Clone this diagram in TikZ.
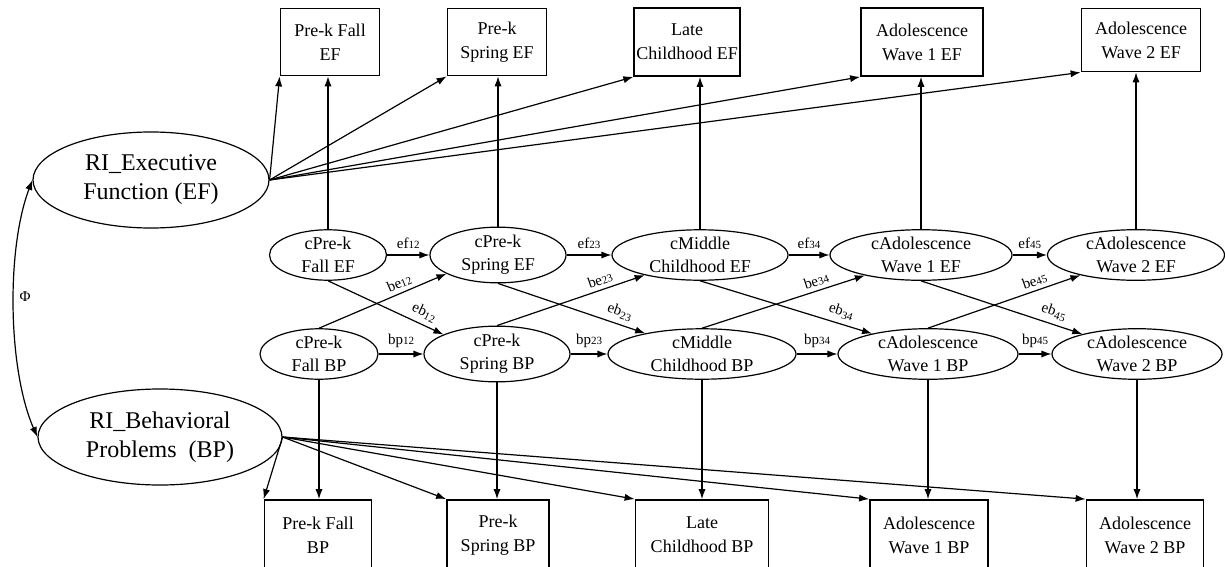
\documentclass[tikz,border=0pt]{standalone}
\usepackage{fontspec}
\setmainfont{Liberation Serif}
\usetikzlibrary{arrows.meta,shapes.geometric}

\newcommand{\pth}[2]{#1{\fontsize{5.5}{6}\selectfont #2}}
\newcommand{\pthlow}[2]{#1\raisebox{-1.3pt}{\fontsize{5.5}{6}\selectfont #2}}

\begin{document}
\begin{tikzpicture}[
  x=0.5pt, y=-0.5pt,
  obs/.style={draw, line width=0.9pt, align=center, font=\fontsize{9}{12}\selectfont, inner sep=1pt},
  lat/.style={draw, ellipse, line width=0.6pt, align=center, font=\fontsize{9}{11.5}\selectfont, inner sep=0pt},
  ri/.style={draw, ellipse, line width=0.6pt, align=center, font=\fontsize{12}{14.5}\selectfont, inner sep=0pt, minimum height=48pt},
  reg/.style={-{Latex[length=5pt,width=3.6pt]}, line width=0.6pt},
  coef/.style={font=\fontsize{7.5}{8}\selectfont, inner sep=1pt}
]

\useasboundingbox (0,0) rectangle (1225,567);

% random intercepts
\node[ri, minimum width=118pt] (riEF) at (151,180) {RI\_Executive\\Function (EF)};
\node[ri, minimum width=122pt] (riBP) at (160,437) {RI\_Behavioral\\Problems\enspace(BP)};

% observed EF
\node[obs, minimum width=49.5pt, minimum height=33.5pt] (oEF1) at (330,42) {Pre-k Fall\\EF};
\node[obs, minimum width=49.5pt, minimum height=33.5pt] (oEF2) at (497,42) {Pre-k\\Spring EF};
\node[obs, minimum width=51.5pt, minimum height=34pt] (oEF3) at (687,42) {Late\\Childhood EF};
\node[obs, minimum width=61pt, minimum height=34pt] (oEF4) at (922,42) {Adolescence\\Wave 1 EF};
\node[obs, minimum width=59.5pt, minimum height=31.5pt] (oEF5) at (1141,40) {Adolescence\\Wave 2 EF};

% observed BP
\node[obs, minimum width=53.5pt, minimum height=35pt] (oBP1) at (318,535) {Pre-k Fall\\BP};
\node[obs, minimum width=51pt, minimum height=35pt] (oBP2) at (498,535) {Pre-k\\Spring BP};
\node[obs, minimum width=66.5pt, minimum height=35pt] (oBP3) at (702,535) {Late\\Childhood BP};
\node[obs, minimum width=59pt, minimum height=35pt] (oBP4) at (929,535) {Adolescence\\Wave 1 BP};
\node[obs, minimum width=58.5pt, minimum height=35pt] (oBP5) at (1145,535) {Adolescence\\Wave 2 BP};

% within-person EF
\node[lat, minimum width=58.5pt] (cEF1) at (328,255) {cPre-k\\Fall EF};
\node[lat, minimum width=68pt] (cEF2) at (498,255) {cPre-k\\Spring EF};
\node[lat, minimum width=88pt] (cEF3) at (700,255) {cMiddle\\Childhood EF};
\node[lat, minimum width=91pt] (cEF4) at (921,255) {cAdolescence\\Wave 1 EF};
\node[lat, minimum width=88.5pt] (cEF5) at (1136,255) {cAdolescence\\Wave 2 EF};

% within-person BP
\node[lat, minimum width=59pt] (cBP1) at (319,354) {cPre-k\\Fall BP};
\node[lat, minimum width=73pt] (cBP2) at (497,354) {cPre-k\\Spring BP};
\node[lat, minimum width=94pt] (cBP3) at (702,354) {cMiddle\\Childhood BP};
\node[lat, minimum width=90pt] (cBP4) at (928,354) {cAdolescence\\Wave 1 BP};
\node[lat, minimum width=85pt] (cBP5) at (1137,354) {cAdolescence\\Wave 2 BP};

% intercept loadings
\draw[reg] (riEF.east) -- (oEF1.south west);
\draw[reg] (riEF.east) -- (oEF2.south west);
\draw[reg] (riEF.east) -- (oEF3.south west);
\draw[reg] (riEF.east) -- (oEF4.south west);
\draw[reg] (riEF.east) -- (oEF5.south west);
\draw[reg] (riBP.east) -- (oBP1.north west);
\draw[reg] (riBP.east) -- (oBP2.north west);
\draw[reg] (riBP.east) -- (oBP3.north west);
\draw[reg] (riBP.east) -- (oBP4.north west);
\draw[reg] (riBP.east) -- (oBP5.north west);

% within-person loadings
\draw[reg] (cEF1.north) -- (cEF1.north |- oEF1.south);
\draw[reg] (cEF2.north) -- (cEF2.north |- oEF2.south);
\draw[reg] (cEF3.north) -- (cEF3.north |- oEF3.south);
\draw[reg] (cEF4.north) -- (cEF4.north |- oEF4.south);
\draw[reg] (cEF5.north) -- (cEF5.north |- oEF5.south);
\draw[reg] (cBP1.south) -- (cBP1.south |- oBP1.north);
\draw[reg] (cBP2.south) -- (cBP2.south |- oBP2.north);
\draw[reg] (cBP3.south) -- (cBP3.south |- oBP3.north);
\draw[reg] (cBP4.south) -- (cBP4.south |- oBP4.north);
\draw[reg] (cBP5.south) -- (cBP5.south |- oBP5.north);

% autoregressive paths
\draw[reg] (cEF1) -- node[coef, above=2pt] {\pth{ef}{12}} (cEF2);
\draw[reg] (cEF2) -- node[coef, above=2pt] {\pth{ef}{23}} (cEF3);
\draw[reg] (cEF3) -- node[coef, above=2pt] {\pth{ef}{34}} (cEF4);
\draw[reg] (cEF4) -- node[coef, above=2pt] {\pth{ef}{45}} (cEF5);
\draw[reg] (cBP1) -- node[coef, above=2pt] {\pth{bp}{12}} (cBP2);
\draw[reg] (cBP2) -- node[coef, above=2pt] {\pth{bp}{23}} (cBP3);
\draw[reg] (cBP3) -- node[coef, above=2pt] {\pth{bp}{34}} (cBP4);
\draw[reg] (cBP4) -- node[coef, above=2pt] {\pth{bp}{45}} (cBP5);

% cross-lagged paths
\draw[reg] (cBP1.north) -- node[coef, sloped, above=1pt, pos=0.66] {\pth{be}{12}} (cEF2.200);
\draw[reg] (cBP2.north) -- node[coef, sloped, above=1pt, pos=0.72] {\pth{be}{23}} (cEF3.200);
\draw[reg] (cBP3.north) -- node[coef, sloped, above=1pt, pos=0.72] {\pth{be}{34}} (cEF4.200);
\draw[reg] (cBP4.north) -- node[coef, sloped, above=1pt, pos=0.72] {\pth{be}{45}} (cEF5.200);
\draw[reg] (cEF1.south) -- node[coef, sloped, above=1.5pt, pos=0.79] {\pthlow{eb}{12}} (cBP2.160);
\draw[reg] (cEF2.south) -- node[coef, sloped, above=1.5pt, pos=0.8] {\pthlow{eb}{23}} (cBP3.160);
\draw[reg] (cEF3.south) -- node[coef, sloped, above=1.5pt, pos=0.8] {\pthlow{eb}{34}} (cBP4.160);
\draw[reg] (cEF4.south) -- node[coef, sloped, above=1.5pt, pos=0.8] {\pthlow{eb}{45}} (cBP5.160);

% intercept covariance
\draw[{Latex[length=5pt,width=3.6pt]}-{Latex[length=5pt,width=3.6pt]}, line width=0.6pt]
  (riEF.west) .. controls (6,250) and (8,370) .. (riBP.west);
\node[font=\fontsize{7.5}{8}\selectfont] (phi) at (25,297) {Φ};

\end{tikzpicture}
\end{document}
